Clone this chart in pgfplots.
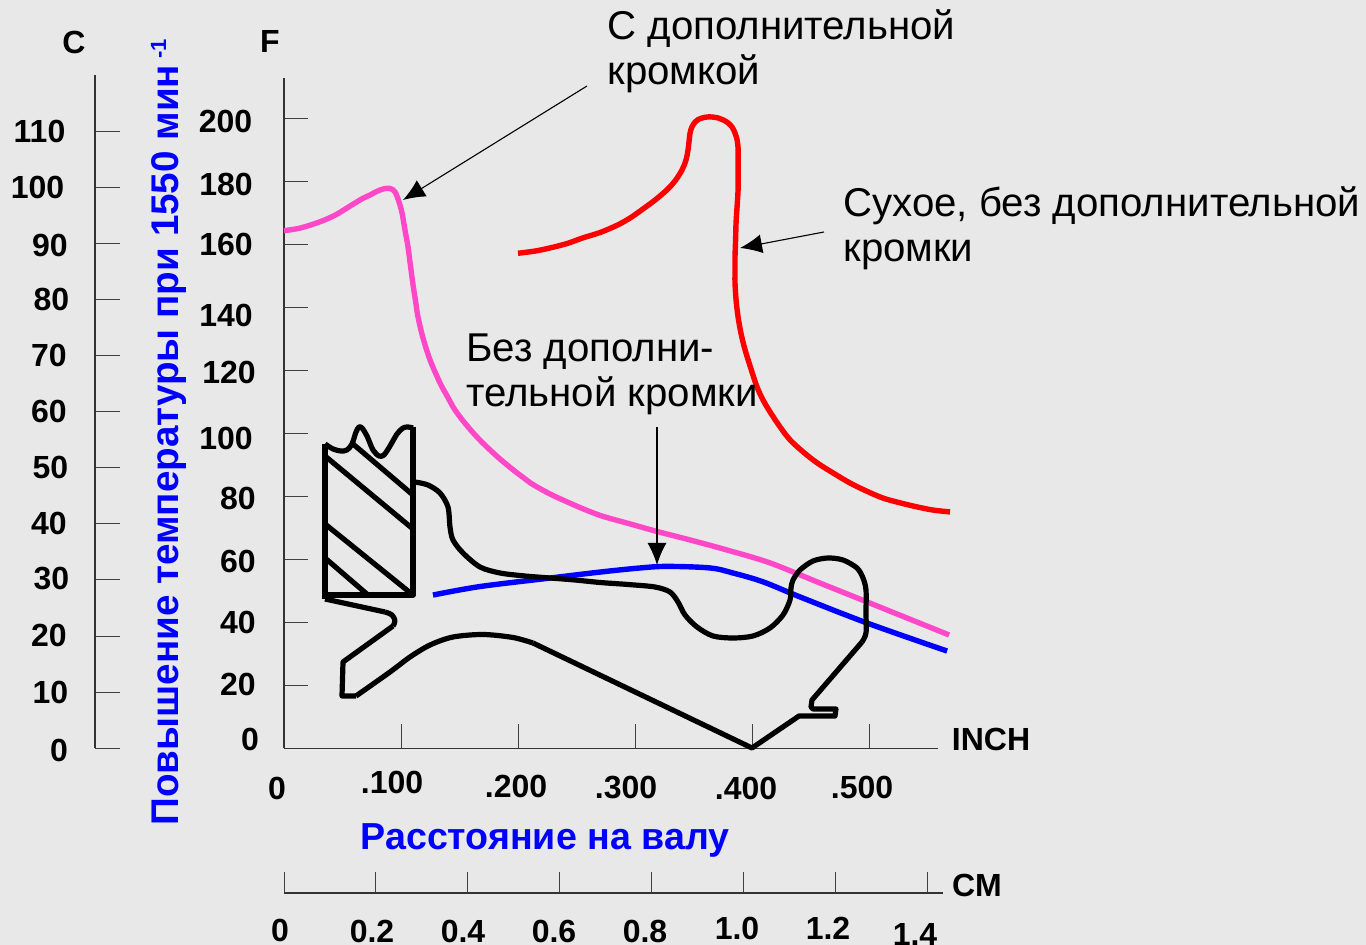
\documentclass[border=0pt]{standalone}
\usepackage{pgfplots}
\pgfplotsset{compat=1.18}
\usepackage{fontspec}
\setmainfont{Liberation Sans}
\usetikzlibrary{arrows.meta}
\definecolor{bg}{HTML}{E8E8E8}
\definecolor{pinkc}{HTML}{FF48C8}
\pgfplotsset{
  scaleaxis/.style={scale only axis,clip=false,axis line style={-,line width=0.6pt,black!80},
    tick style={line width=0.5pt,black!75},tick align=inside,xtick pos=bottom,ytick pos=left,
    xticklabels={},yticklabels={}},
  seal/.style={black,solid,line width=2.6pt,line join=round,mark=none},
}
\newcommand{\lb}[3]{\node[font=\fontsize{16}{16}\selectfont\bfseries,inner sep=0pt] at (axis cs:#1,#2) {#3};}
\newcommand{\ann}[3]{\node[font=\fontsize{20.1}{20}\selectfont,anchor=base west,inner sep=0pt] at (axis cs:#1,#2) {#3};}
\begin{document}
\begin{tikzpicture}
\path[use as bounding box,fill=bg] (0,0) rectangle (683pt,472.5pt);
% C axis
\begin{axis}[scaleaxis,at={(47.5pt,98.35pt)},anchor=south west,width=0.1pt,height=336.65pt,
  axis x line=none,axis y line*=left,ymin=0,ymax=120,xmin=0,xmax=1,
  ytick={0,10,...,110},major tick length=12.5pt]
\end{axis}
% CM axis
\begin{axis}[scaleaxis,at={(142pt,26pt)},anchor=south west,width=329.25pt,height=0.1pt,
  axis x line*=bottom,axis y line=none,xmin=0,xmax=1.4325,ymin=0,ymax=1,
  xtick={0,0.2,...,1.4},major tick length=10.5pt]
\end{axis}
% main axis
\begin{axis}[scaleaxis,at={(142pt,98.35pt)},anchor=south west,width=326.75pt,height=335.15pt,
  axis x line*=bottom,axis y line*=left,xmin=0,xmax=0.558,ymin=0,ymax=213,
  xtick={0,0.1,...,0.5},ytick={0,20,...,200},major tick length=12pt]
\addplot[pinkc,line width=2.7pt,smooth,tension=0.55] coordinates {
(0,164.5)(.0137,165.3)(.0307,167.3)(.0436,169.4)(.0538,171.7)(.0666,174.6)(.0734,175.8)(.0794,177.0)(.0854,177.8)(.0905,177.9)(.0948,176.8)(.0982,173.6)(.1008,170.1)(.1033,164.7)(.1059,159.3)(.1080,153.3)(.1102,147.2)(.1123,142.2)(.1144,137.1)(.1187,130.4)(.1247,123.4)(.1332,116.1)(.1392,112.0)(.1460,107.5)(.1554,102.9)(.1648,98.9)(.1742,95.4)(.1845,91.9)(.1956,88.5)(.2041,86.1)(.2126,83.8)(.2272,80.8)(.2417,78.3)(.2553,76.1)(.2699,74.0)(.2827,72.6)(.2955,71.3)(.3185,68.9)(.3467,66.2)(.3783,63.0)(.4150,58.9)(.4577,52.5)(.4979,46.5)(.5346,41.0)(.5679,36.0)};
\addplot[red,line width=2.7pt,smooth,tension=0.55] coordinates {
(.1998,157.3)(.2143,158.0)(.2272,159.0)(.2417,160.4)(.2553,162.2)(.2699,163.9)(.2844,166.2)(.2955,168.5)(.3066,171.4)(.3168,174.2)(.3271,177.5)(.3339,180.3)(.3399,183.8)(.3433,187.0)(.3450,190.1)(.3459,193.0)(.3467,195.5)(.3484,197.5)(.3510,199.0)(.3536,199.8)(.3570,200.3)(.3612,200.6)(.3655,200.6)(.3706,200.3)(.3749,199.7)(.3792,198.7)(.3826,197.4)(.3851,195.5)(.3869,193.3)(.3877,190.8)(.3877,187.9)(.3877,182.9)(.3877,177.4)(.3869,172.3)(.3860,167.0)(.3856,161.5)(.3851,156.2)(.3851,152.0)(.3851,147.9)(.3860,142.5)(.3877,137.1)(.3903,131.7)(.3937,126.6)(.3988,120.5)(.4039,114.8)(.4090,110.7)(.4150,106.9)(.4236,102.1)(.4321,98.0)(.4432,94.2)(.4552,90.7)(.4688,87.5)(.4833,84.3)(.4970,81.8)(.5115,79.5)(.5260,78.0)(.5406,76.7)(.5542,75.7)(.5687,75.1)};
\addplot[blue,line width=2.7pt,smooth,tension=0.55] coordinates {
(.1272,48.7)(.1674,51.4)(.2272,54.1)(.2699,56.0)(.3040,57.3)(.3271,57.8)(.3638,57.3)(.3834,55.7)(.4090,52.9)(.4406,48.1)(.4979,39.8)(.5662,30.9)};
\end{axis}
% overlay in picture pixels: seal section, labels, arrows
\begin{axis}[scale only axis,clip=false,hide axis,at={(0pt,0pt)},anchor=south west,width=683pt,height=472.5pt,
  xmin=0,xmax=1366,ymin=0,ymax=945,y dir=reverse]
% section block
\addplot[seal] coordinates {(325,444)(325,599)};
\addplot[seal] coordinates {(413,427)(413,595)(325,595)};
\addplot[seal,smooth,tension=0.5] coordinates {(325,444)(333,449)(341,451)(347,450)(352,444)(356,432)(359,427)(362,428)(367,436)(373,450)(379,456)(384,455)(390,446)(397,434)(403,428)(408,427)(413,428)};
\addplot[seal] coordinates {(353,444)(413,495)};
\addplot[seal] coordinates {(325,456)(413,529)};
\addplot[seal] coordinates {(325,524)(413,595)};
\addplot[seal] coordinates {(325,558)(368,595)};
% lip profile
\addplot[seal] coordinates {(325,599)(385,612)};
\addplot[seal,smooth,tension=0.6] coordinates {(385,612)(392,615)(395,621)(393,626)};
\addplot[seal] coordinates {(393,626)(343,662)(342,696)(356,696)};
\addplot[seal,smooth,tension=0.5] coordinates {(356,696)(390,672)(410,657)(430,645)(453,637)(483,634.5)(513,637.5)(533,643)};
\addplot[seal] coordinates {(533,643)(752,748)(799,716)(835,716)(836,709)(813,709)(811,707)(812,700)(862,642)};
\addplot[seal,smooth,tension=0.5] coordinates {(862,642)(866,633)(866,612)(866,590)(863,578)(857,568)(843,560)(828,558)(813,561)(800,570)(793,580)(791,588)(790,600)(783,615)(770,628)(753,636)(733,638)(713,636)(697,627)(685,615)(678,602)(670,592)(655,587)(628,584.5)(600,582.5)(575,580)(550,578)(525,576)(500,573)(480,567)(463,553)(453,540)(450,527)(448,507)(440,493)(428,485)(415,482)};
% arrows
\draw[line width=0.55pt,-{Latex[length=11pt,width=9.5pt]}] (axis cs:587,86)--(axis cs:403,200);
\draw[line width=0.55pt,-{Latex[length=11pt,width=9.5pt]}] (axis cs:824,232)--(axis cs:740,248);
\draw[line width=0.55pt,-{Latex[length=11pt,width=9.5pt]}] (axis cs:657,427)--(axis cs:657,565);
% C labels
\lb{39.5}{131}{110}\lb{37.5}{187}{100}\lb{50}{245}{90}\lb{51.5}{299}{80}\lb{49}{355}{70}\lb{49}{411}{60}\lb{50.5}{467}{50}\lb{49}{523}{40}\lb{51.5}{579}{30}\lb{49}{635}{20}\lb{50.5}{692}{10}\lb{59}{750}{0}
\lb{74}{42}{C}\lb{270}{42}{F}
% F labels
\lb{225.5}{121}{200}\lb{226}{184}{180}\lb{226}{244}{160}\lb{226}{315}{140}\lb{229}{372}{120}\lb{226}{438}{100}\lb{238}{498}{80}\lb{238}{561}{60}\lb{238}{622}{40}\lb{238}{684}{20}\lb{250}{739}{0}
% inch labels
\lb{277}{788}{0}\lb{392}{782}{.100}\lb{516}{786}{.200}\lb{626}{788}{.300}\lb{746}{788}{.400}\lb{862}{787}{.500}
\lb{991}{739}{INCH}\lb{977}{885}{CM}
% cm labels
\lb{280}{930}{0}\lb{372}{931}{0.2}\lb{463}{931}{0.4}\lb{554}{931}{0.6}\lb{645}{931}{0.8}\lb{737}{928}{1.0}\lb{828}{928}{1.2}\lb{915}{934}{1.4}
% titles
\node[font=\fontsize{18.8}{19}\selectfont\bfseries,text=blue,inner sep=0pt] at (axis cs:545,840) {Расстояние на валу};
\node[font=\fontsize{19.3}{19}\selectfont\bfseries,text=blue,inner sep=0pt,rotate=90,anchor=base west] at (axis cs:178,826) {Повышение температуры при 1550 мин\raisebox{6pt}{\fontsize{11}{11}\selectfont\ -1}};
% annotations
\ann{607}{40}{С дополнительной}\ann{607}{85}{кромкой}
\ann{843}{217}{Сухое, без дополнительной}\ann{843}{262}{кромки}
\ann{466}{362}{Без дополни-}\ann{466}{407}{тельной кромки}
\end{axis}
\end{tikzpicture}
\end{document}
